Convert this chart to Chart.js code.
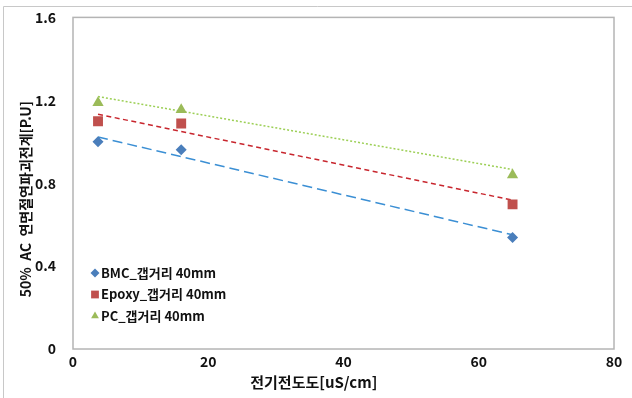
<!DOCTYPE html>
<html>
<head>
<meta charset="utf-8">
<script src="https://cdn.jsdelivr.net/npm/chart.js@4/dist/chart.umd.min.js"></script>
<style>
  body { margin: 0; background: #fff; }
  canvas { display: block; }
</style>
</head>
<body>
<canvas id="myChart" width="632" height="398"></canvas>
<script>
// values
const conductivity = [3.7, 16, 65];
const bmc = [1.0, 0.962, 0.538];
const epoxy = [1.099, 1.088, 0.698];
const pc = [1.188, 1.155, 0.84];

// trend line end points (as drawn in the reference)
const trendX = [3.7, 65];
const bmcTrend = [1.023, 0.551];
const epoxyTrend = [1.133, 0.718];
const pcTrend = [1.218, 0.866];

const seriesNames = ['BMC_갭거리 40mm', 'Epoxy_갭거리 40mm', 'PC_갭거리 40mm'];
const xTicks = [0, 20, 40, 60, 80];
const yTicks = [0, 0.4, 0.8, 1.2, 1.6];

const FONT = "'Noto Sans CJK KR', 'Noto Sans', sans-serif";

function pts(xs, ys) {
    return xs.map((x, i) => ({ x: x, y: ys[i] }));
}

const frame = {
    id: 'frame',
    beforeDraw(chart) {
        const c = chart.ctx;
        c.save();
        c.fillStyle = '#fff';
        c.fillRect(0, 0, chart.width, chart.height);
        c.strokeStyle = '#c8c8c8';
        c.lineWidth = 1;
        c.beginPath();
        c.moveTo(3.5, chart.height);
        c.lineTo(3.5, 6.5);
        c.lineTo(chart.width, 6.5);
        c.stroke();
        c.restore();
    },
    afterDatasetsDraw(chart) {
        const a = chart.chartArea;
        const c = chart.ctx;
        c.save();
        c.strokeStyle = '#b4b4b4';
        c.lineWidth = 1.5;
        c.strokeRect(a.left, a.top, a.right - a.left, a.bottom - a.top);
        c.restore();
    }
};

// legend sits inside the plot, lower left
const insideLegend = {
    id: 'insideLegend',
    afterDraw(chart) {
        const a = chart.chartArea;
        const c = chart.ctx;
        c.save();
        c.font = 'bold 13px ' + FONT;
        c.textBaseline = 'middle';
        [0, 1, 2].forEach(i => {
            const ds = chart.data.datasets[i];
            const y = a.bottom - 76 + i * 21.5;
            const x = a.left + 22;
            c.fillStyle = ds.backgroundColor;
            c.strokeStyle = ds.backgroundColor;
            Chart.helpers.drawPoint(c, {
                pointStyle: ds.pointStyle,
                radius: ds.pointStyle === 'rect' ? 5.5 : 4.5,
                borderWidth: 0
            }, x, y);
            c.fillStyle = '#111';
            c.fillText(ds.label, x + 6, y);
        });
        c.restore();
    }
};

const ctx = document.getElementById('myChart').getContext('2d');
const myChart = new Chart(ctx, {
    type: 'scatter',
    data: {
        datasets: [{
            label: seriesNames[0],
            data: pts(conductivity, bmc),
            pointStyle: 'rectRot',
            pointRadius: 5.5,
            backgroundColor: '#4a7ebb',
            borderColor: '#4a7ebb',
            borderWidth: 0,
            order: 0
        }, {
            label: seriesNames[1],
            data: pts(conductivity, epoxy),
            pointStyle: 'rect',
            pointRadius: 7,
            backgroundColor: '#c0504d',
            borderColor: '#c0504d',
            borderWidth: 0,
            order: 0
        }, {
            label: seriesNames[2],
            data: pts(conductivity, pc),
            pointStyle: 'triangle',
            pointRadius: 6.5,
            backgroundColor: '#9bbb59',
            borderColor: '#9bbb59',
            borderWidth: 0,
            order: 0
        }, {
            label: 'trend BMC',
            type: 'line',
            data: pts(trendX, bmcTrend),
            borderColor: '#3b8fd4',
            borderWidth: 1.5,
            borderDash: [10, 5],
            pointRadius: 0,
            fill: false,
            order: 1
        }, {
            label: 'trend Epoxy',
            type: 'line',
            data: pts(trendX, epoxyTrend),
            borderColor: '#c8262e',
            borderWidth: 1.5,
            borderDash: [5, 3.5],
            pointRadius: 0,
            fill: false,
            order: 1
        }, {
            label: 'trend PC',
            type: 'line',
            data: pts(trendX, pcTrend),
            borderColor: '#9ccf55',
            borderWidth: 1.5,
            borderDash: [2, 2],
            pointRadius: 0,
            fill: false,
            order: 1
        }]
    },
    options: {
        responsive: false,
        animation: false,
        layout: { padding: { top: 15, right: 18, left: 0, bottom: 0 } },
        plugins: {
            legend: { display: false },
            tooltip: { enabled: false },
            title: {
                display: true,
                position: 'bottom',
                text: '    전기전도도[uS/cm]',
                color: '#111',
                font: { family: FONT, size: 15, weight: 'bold', lineHeight: 1.2 },
                padding: { top: 0, bottom: 7 }
            }
        },
        scales: {
            x: {
                type: 'linear',
                min: 0,
                max: 80,
                afterBuildTicks(scale) {
                    scale.ticks = xTicks.map(v => ({ value: v }));
                },
                afterFit(scale) { scale.height = 24; },
                grid: { display: false },
                border: { display: false },
                ticks: {
                    padding: -4,
                    color: '#111',
                    font: { family: FONT, size: 14, weight: 'bold' }
                }
            },
            y: {
                type: 'linear',
                min: 0,
                max: 1.6,
                afterBuildTicks(scale) {
                    scale.ticks = yTicks.map(v => ({ value: v }));
                },
                afterFit(scale) { scale.width = 73; },
                grid: { display: false },
                border: { display: false },
                ticks: {
                    padding: 9,
                    color: '#111',
                    font: { family: FONT, size: 14, weight: 'bold' },
                    callback: v => v === 0 ? '0' : v.toFixed(1)
                },
                title: {
                    display: true,
                    text: '50%  AC  연면절연파괴전계[P.U]          ',
                    color: '#111',
                    font: { family: FONT, size: 14, weight: 'bold', lineHeight: 1.2 },
                    padding: { top: 17, bottom: 0 }
                }
            }
        }
    },
    plugins: [frame, insideLegend]
});
</script>
</body>
</html>
